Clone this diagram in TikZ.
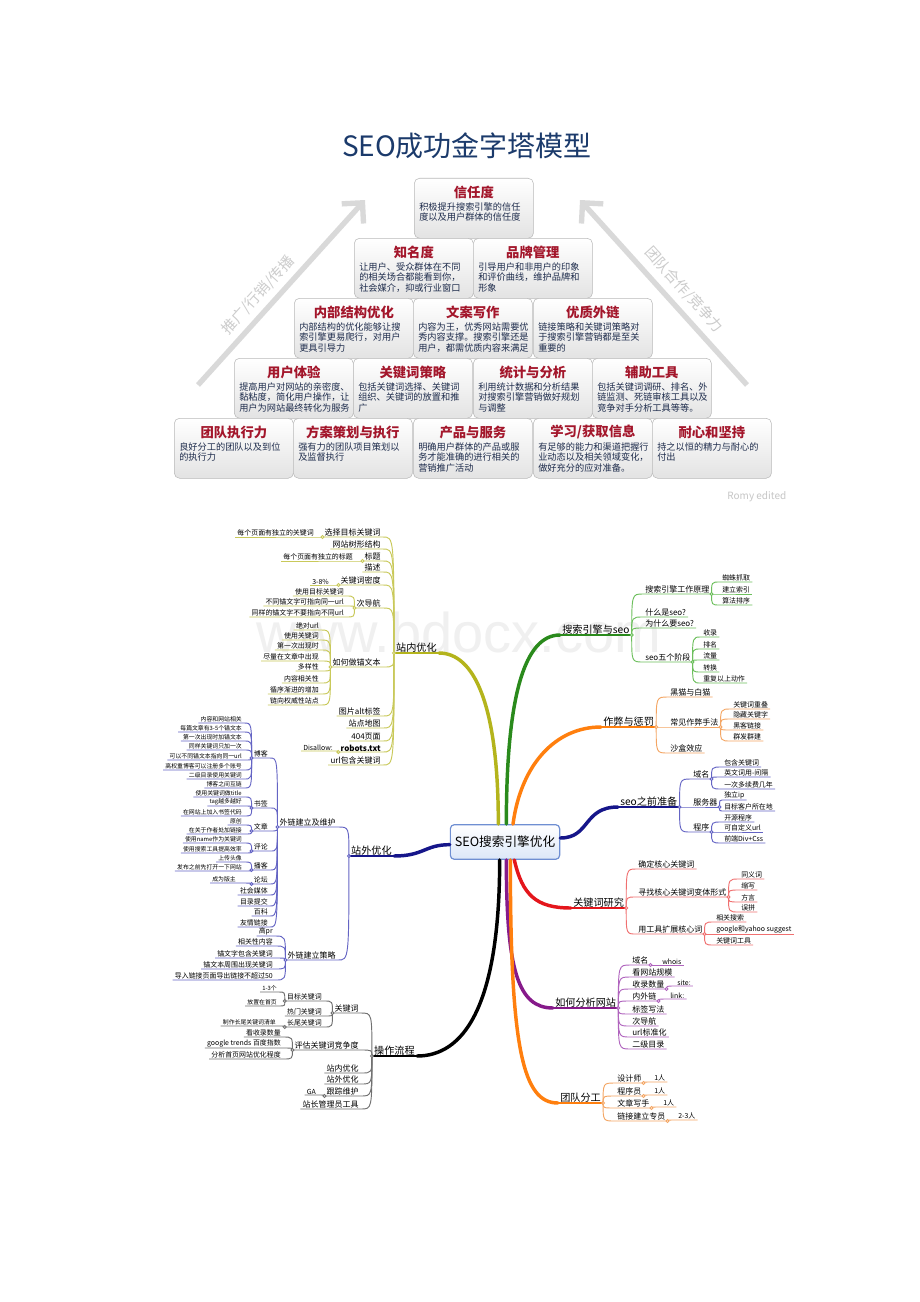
\documentclass[tikz,border=0pt]{standalone}
\usepackage{fontspec}
\setmainfont{Noto Sans CJK SC}
\newfontfamily\markfont{Liberation Sans}
\usetikzlibrary{positioning, arrows.meta, calc}

\definecolor{titleblue}{HTML}{1B3A6B}
\definecolor{brickred}{HTML}{A3162B}
\definecolor{bricktext}{HTML}{1E2C4C}
\definecolor{boxblue}{HTML}{6F8FD2}
\definecolor{boxfill}{HTML}{DCE7F8}
\definecolor{colive}{HTML}{B4B41C}
\definecolor{lolive}{HTML}{C9C95A}
\definecolor{cgreen}{HTML}{2A8A1C}
\definecolor{lgreen}{HTML}{6CBF5C}
\definecolor{corange}{HTML}{FF7F0E}
\definecolor{lorange}{HTML}{F4A664}
\definecolor{cnavy}{HTML}{16168A}
\definecolor{lnavy}{HTML}{6464C4}
\definecolor{cred}{HTML}{E4161C}
\definecolor{lred}{HTML}{F07070}
\definecolor{cpurple}{HTML}{861A8A}
\definecolor{lpurple}{HTML}{B064BE}
\definecolor{lgrey}{HTML}{707070}

% child link + underline, right side / left side
\newcommand{\rbr}[3]{\draw[#1] (#2) .. controls (#2 |- #3.south west) .. (#3.south west) -- (#3.south east);}
\newcommand{\lbr}[3]{\draw[#1] (#2) .. controls (#2 |- #3.south east) .. (#3.south east) -- (#3.south west);}
\newcommand{\jnt}[2]{\filldraw[#1, fill=white] (#2) circle (1.1pt);}

\begin{document}
\begin{tikzpicture}[
        x=0.75pt, y=-0.75pt,
        brick/.style={draw=gray!55, rounded corners=4pt, top color=white, bottom color=gray!22, minimum width=89.4pt, minimum height=45pt, anchor=north west, inner sep=0pt},
        bricktitle/.style={font=\fontsize{10}{12}\selectfont\bfseries, text=brickred},
        brickbody/.style={font=\fontsize{6.9}{8}\selectfont, text=bricktext, align=left, anchor=north west, inner sep=0pt},
        bigarrow/.style={draw=gray!30, line width=4pt, -{Straight Barb[length=11pt, width=22pt]}},
        sidetext/.style={font=\fontsize{11}{13}\selectfont, text=gray!40},
        centre/.style={draw=boxblue, line width=0.9pt, rounded corners=3pt, top color=white, bottom color=boxfill, minimum width=78pt, minimum height=26pt, font=\fontsize{9.5}{11}\selectfont},
        trunk/.style={line width=2.6pt, line cap=round},
        rn/.style={anchor=south west, inner xsep=1.5pt, inner ysep=0.3pt},
        ln/.style={anchor=south east, inner xsep=1.5pt, inner ysep=0.3pt},
        lv1/.style={font=\fontsize{7.6}{8}\selectfont},
        lv2/.style={font=\fontsize{6}{7}\selectfont},
        lv3/.style={font=\fontsize{5.2}{6}\selectfont},
        lv4/.style={font=\fontsize{4.4}{5}\selectfont},
        olivel/.style={draw=lolive, line width=0.7pt},
        greenl/.style={draw=lgreen, line width=0.7pt},
        orangel/.style={draw=lorange, line width=0.7pt},
        navyl/.style={draw=lnavy, line width=0.7pt},
        redl/.style={draw=lred, line width=0.7pt},
        purplel/.style={draw=lpurple, line width=0.7pt},
        greyl/.style={draw=lgrey, line width=0.7pt},
    ]
    \useasboundingbox (0,0) rectangle (920,1302);
    \fill[white] (0,0) rectangle (920,1302);

    % watermark
    \node[font=\markfont\fontsize{42}{44}\selectfont, text=gray!12, anchor=base west] (mark) at (252,652) {www.bdocx.com};

    % pyramid title
    \node[font=\fontsize{21}{25}\selectfont, text=titleblue] (title) at (467,146) {SEO成功金字塔模型};

    % side arrows
    \coordinate (lfoot) at (198,385);
    \coordinate (ltip) at (365,200);
    \coordinate (rfoot) at (747,385);
    \coordinate (rtip) at (580,200);
    \draw[bigarrow] (lfoot) -- (ltip);
    \draw[bigarrow] (rfoot) -- (rtip);
    \node[sidetext, rotate=48] (spread) at (258,295) {推广/行销/传播};
    \node[sidetext, rotate=-48] (teamwork) at (684,290) {团队合作/竞争力};

    % bricks of the pyramid
    \foreach \nm/\bx/\by/\ttl/\desc in {
        trust/414/178/信任度/{积极提升搜索引擎的信任\\度以及用户群体的信任度},
        fame/354/238/知名度/{让用户、受众群体在不同\\的相关场合都能看到你，\\社会媒介，抑或行业窗口},
        brand/473/238/品牌管理/{引导用户和非用户的印象\\和评价曲线，维护品牌和\\形象},
        struct/294/298/内部结构优化/{内部结构的优化能够让搜\\索引擎更易爬行，对用户\\更具引导力},
        copy/413/298/文案写作/{内容为王，优秀网站需要优\\秀内容支撑。搜索引擎还是\\用户，都需优质内容来满足},
        links/533/298/优质外链/{链接策略和关键词策略对\\于搜索引擎营销都是至关\\重要的},
        ux/234/358/用户体验/{提高用户对网站的亲密度、\\黏粘度，简化用户操作，让\\用户为网站最终转化为服务},
        kwplan/353/358/关键词策略/{包括关键词选择、关键词\\组织、关键词的放置和推\\广},
        stats/473/358/统计与分析/{利用统计数据和分析结果\\对搜索引擎营销做好规划\\与调整},
        tools/592/358/辅助工具/{包括关键词调研、排名、外\\链监测、死链审核工具以及\\竞争对手分析工具等等。},
        exec/174/418/团队执行力/{良好分工的团队以及到位\\的执行力},
        plan/293/418/方案策划与执行/{强有力的团队项目策划以\\及监督执行},
        product/413/418/产品与服务/{明确用户群体的产品或服\\务才能准确的进行相关的\\营销推广活动},
        learn/533/418/{学习/获取信息}/{有足够的能力和渠道把握行\\业动态以及相关领域变化，\\做好充分的应对准备。},
        patience/652/418/耐心和坚持/{持之以恒的精力与耐心的\\付出}}{
        \node[brick] (\nm) at (\bx,\by) {};
        \node[bricktitle] (\nm-t) at ($(\nm.north)+(0,14)$) {\ttl};
        \node[brickbody] (\nm-b) at ($(\nm.north west)+(5,24)$) {\desc};
    }

    \node[font=\fontsize{7.5}{9}\selectfont, text=gray!45, anchor=east] (credit) at (791,497) {Romy edited};

    % central topic and main topics
    \node[centre] (seo) at (505,842) {SEO搜索引擎优化};
    \node[ln, lv1] (sin) at (439,653) {站内优化};
    \node[rn, lv1] (sse) at (560,635) {搜索引擎与seo};
    \node[rn, lv1] (cheat) at (601,727) {作弊与惩罚};
    \node[rn, lv1] (prep) at (618,807) {seo之前准备};
    \node[ln, lv1] (sout) at (394,856) {站外优化};
    \node[rn, lv1] (kw) at (571,908) {关键词研究};
    \node[rn, lv1] (site) at (553,1008) {如何分析网站};
    \node[ln, lv1] (flow) at (417,1056) {操作流程};
    \node[rn, lv1] (team) at (558,1103) {团队分工};

    % thick branches
    \draw[trunk, colive] ([xshift=-5pt]seo.north) .. controls +(0,-120) and +(35,0) .. (sin.south east);
    \draw[trunk, cgreen] ([xshift=1pt]seo.north) .. controls +(0,-130) and +(-35,0) .. (sse.south west);
    \draw[trunk, corange] ([xshift=6pt]seo.north) .. controls +(8,-60) and +(-45,0) .. (cheat.south west);
    \draw[trunk, cnavy] ([yshift=3pt]seo.east) .. controls +(30,0) and +(-35,0) .. (prep.south west);
    \draw[trunk, cnavy] ([yshift=-2pt]seo.west) .. controls +(-25,0) and +(30,0) .. (sout.south east);
    \draw[trunk, cred] ([xshift=7pt]seo.south) .. controls +(8,35) and +(-35,0) .. (kw.south west);
    \draw[trunk, cpurple] ([xshift=1pt]seo.south) .. controls +(0,110) and +(-35,0) .. (site.south west);
    \draw[trunk, corange] ([xshift=4pt]seo.south) .. controls +(0,190) and +(-35,0) .. (team.south west);
    \draw[trunk, black] ([xshift=-4pt]seo.south) .. controls +(0,150) and +(45,0) .. (flow.south east);
    \foreach \n/\c in {sin/colive, sse/cgreen, cheat/corange, prep/cnavy, sout/cnavy, kw/cred, site/cpurple, flow/black, team/corange}
        \draw[\c, line width=1.1pt] (\n.south west) -- (\n.south east);

    % search engine and seo
    \foreach \tx/\yy [count=\i] in {搜索引擎工作原理/594, 什么是seo?/617, 为什么要seo?/628, seo五个阶段/662}{
        \node[rn, lv2] (sse-\i) at (643,\yy) {\tx};
        \rbr{greenl}{sse.south east}{sse-\i}
    }
    \foreach \tx/\yy [count=\i] in {蜘蛛抓取/582, 建立索引/594, 算法排序/605}{
        \node[rn, lv3] (sse-1-\i) at (720,\yy) {\tx};
        \rbr{greenl}{sse-1.south east}{sse-1-\i}
    }
    \foreach \tx/\yy [count=\i] in {收录/637, 排名/649, 流量/660, 转换/672, 重复以上动作/683}{
        \node[rn, lv3] (sse-4-\i) at (701,\yy) {\tx};
        \rbr{greenl}{sse-4.south east}{sse-4-\i}
    }
    \foreach \j in {sse, sse-1, sse-4} {\jnt{greenl}{\j.south east}}

    % cheating and penalties
    \foreach \tx/\yy [count=\i] in {黑猫与白猫/697, 常见作弊手法/727, 沙盒效应/753}{
        \node[rn, lv2] (cheat-\i) at (668,\yy) {\tx};
        \rbr{orangel}{cheat.south east}{cheat-\i}
    }
    \foreach \tx/\yy [count=\i] in {关键词重叠/709, 隐藏关键字/719, 黑客链接/730, 群发群建/741}{
        \node[rn, lv3] (cheat-2-\i) at (731,\yy) {\tx};
        \rbr{orangel}{cheat-2.south east}{cheat-2-\i}
    }
    \foreach \j in {cheat, cheat-2} {\jnt{orangel}{\j.south east}}

    % before seo
    \foreach \tx/\yy [count=\i] in {域名/779, 服务器/807, 程序/832}{
        \node[rn, lv2] (prep-\i) at (691,\yy) {\tx};
        \rbr{navyl}{prep.south east}{prep-\i}
    }
    \foreach \tx/\yy [count=\i] in {包含关键词/767, 英文词用-间隔/777, 一次多续费几年/789}{
        \node[rn, lv3] (prep-1-\i) at (722,\yy) {\tx};
        \rbr{navyl}{prep-1.south east}{prep-1-\i}
    }
    \foreach \tx/\yy [count=\i] in {独立ip/800, 目标客户所在地/811}{
        \node[rn, lv3] (prep-2-\i) at (722,\yy) {\tx};
        \rbr{navyl}{prep-2.south east}{prep-2-\i}
    }
    \foreach \tx/\yy [count=\i] in {开源程序/822, 可自定义url/832, 前端Div+Css/843}{
        \node[rn, lv3] (prep-3-\i) at (722,\yy) {\tx};
        \rbr{navyl}{prep-3.south east}{prep-3-\i}
    }
    \foreach \j in {prep, prep-1, prep-2, prep-3} {\jnt{navyl}{\j.south east}}

    % keyword research
    \foreach \tx/\yy [count=\i] in {确定核心关键词/869, 寻找核心关键词变体形式/897, 用工具扩展核心词/934}{
        \node[rn, lv2] (kw-\i) at (636,\yy) {\tx};
        \rbr{redl}{kw.south east}{kw-\i}
    }
    \foreach \tx/\yy [count=\i] in {同义词/879, 缩写/890, 方言/902, 误拼/912}{
        \node[rn, lv3] (kw-2-\i) at (739,\yy) {\tx};
        \rbr{redl}{kw-2.south east}{kw-2-\i}
    }
    \foreach \tx/\yy [count=\i] in {相关搜索/922, google和yahoo suggest/934, 关键词工具/945}{
        \node[rn, lv3] (kw-3-\i) at (714,\yy) {\tx};
        \rbr{redl}{kw-3.south east}{kw-3-\i}
    }
    \foreach \j in {kw, kw-2, kw-3} {\jnt{redl}{\j.south east}}

    % analysing a site
    \foreach \tx/\yy [count=\i] in {域名/965, 看网站规模/977, 收录数量/989, 内外链/1001, 标签写法/1014, 次导航/1026, url标准化/1037, 二级目录/1049}{
        \node[rn, lv2] (site-\i) at (630,\yy) {\tx};
        \rbr{purplel}{site.south east}{site-\i}
    }
    \node[rn, lv3] (site-1-1) at (660,965) {whois};
    \rbr{purplel}{site-1.south east}{site-1-1}
    \node[rn, lv3] (site-3-1) at (675,986) {site:};
    \rbr{purplel}{site-3.south east}{site-3-1}
    \node[rn, lv3] (site-4-1) at (668,999) {link:};
    \rbr{purplel}{site-4.south east}{site-4-1}
    \foreach \j in {site, site-1, site-3, site-4} {\jnt{purplel}{\j.south east}}

    % team roles
    \foreach \tx/\yy/\hc/\hx [count=\i] in {设计师/1083/1人/652, 程序员/1096/1人/652, 文章写手/1108/1人/661, 链接建立专员/1121/2-3人/676}{
        \node[rn, lv2] (team-\i) at (615,\yy) {\tx};
        \rbr{orangel}{team.south east}{team-\i}
        \node[rn, lv3] (team-\i-1) at (\hx,\yy-1) {\hc};
        \rbr{orangel}{team-\i.south east}{team-\i-1}
        \jnt{orangel}{team-\i.south east}
    }
    \jnt{orangel}{team.south east}

    % on-site optimisation
    \foreach \tx/\yy [count=\i] in {选择目标关键词/537, 网站树形结构/549, 标题/561, 描述/572, 关键词密度/585, 次导航/608, 如何做锚文本/667, 图片alt标签/716, 站点地图/728, 404页面/741, \textbf{robots.txt}/752, url包含关键词/765}{
        \node[ln, lv2] (sin-\i) at (383,\yy) {\tx};
        \lbr{olivel}{sin.south west}{sin-\i}
    }
    \node[ln, lv3] (sin-1-1) at (316,537) {每个页面有独立的关键词};
    \lbr{olivel}{sin-1.south west}{sin-1-1}
    \node[ln, lv3] (sin-3-1) at (355,561) {每个页面有独立的标题};
    \lbr{olivel}{sin-3.south west}{sin-3-1}
    \node[ln, lv3] (sin-5-1) at (331,585) {3-8\%};
    \lbr{olivel}{sin-5.south west}{sin-5-1}
    \foreach \tx/\yy [count=\i] in {使用目标关键词/596, 不同锚文字可指向同一url/606, 同样的锚文字不要指向不同url/617}{
        \node[ln, lv3] (sin-6-\i) at (346,\yy) {\tx};
        \lbr{olivel}{sin-6.south west}{sin-6-\i}
    }
    \foreach \tx/\yy [count=\i] in {绝对url/630, 使用关键词/640, 第一次出现时/650, 尽量在文章中出现/661, 多样性/671, 内容相关性/683, 循序渐进的增加/694, 链向权威性站点/705}{
        \node[ln, lv3] (sin-7-\i) at (321,\yy) {\tx};
        \lbr{olivel}{sin-7.south west}{sin-7-\i}
    }
    \node[ln, lv3] (sin-11-1) at (335,751) {Disallow:};
    \lbr{olivel}{sin-11.south west}{sin-11-1}
    \foreach \j in {sin, sin-1, sin-3, sin-5, sin-6, sin-7, sin-11} {\jnt{olivel}{\j.south west}}

    % off-site optimisation
    \foreach \tx/\yy [count=\i] in {外链建立及维护/827, 外链建立策略/960}{
        \node[ln, lv2] (sout-\i) at (338,\yy) {\tx};
        \lbr{navyl}{sout.south west}{sout-\i}
    }
    \foreach \tx/\yy [count=\i] in {博客/758, 书签/808, 文章/831, 评论/851, 播客/870, 论坛/884, 社会媒体/895, 目录提交/906, 百科/916, 友情链接/927}{
        \node[ln, lv3] (sout-1-\i) at (270,\yy) {\tx};
        \lbr{navyl}{sout-1.south west}{sout-1-\i}
    }
    \foreach \tx/\yy [count=\i] in {内容和网站相关/723, 每篇文章有3-5个锚文本/732, 第一次出现时加锚文本/741, 同样关键词只加一次/750, 可以不同锚文本指向同一url/760, 高权重博客可以注册多个账号/770, 二级目录使用关键词/779, 博客之间互链/788}{
        \node[ln, lv4] (sout-1-1-\i) at (244,\yy) {\tx};
        \lbr{navyl}{sout-1-1.south west}{sout-1-1-\i}
    }
    \foreach \tx/\yy [count=\i] in {使用关键词做title/797, tag越多越好/806, 在网站上加入书签代码/816}{
        \node[ln, lv4] (sout-1-2-\i) at (244,\yy) {\tx};
        \lbr{navyl}{sout-1-2.south west}{sout-1-2-\i}
    }
    \foreach \tx/\yy [count=\i] in {原创/825, 在关于作者处加链接/834}{
        \node[ln, lv4] (sout-1-3-\i) at (244,\yy) {\tx};
        \lbr{navyl}{sout-1-3.south west}{sout-1-3-\i}
    }
    \foreach \tx/\yy [count=\i] in {使用name作为关键词/843, 使用搜索工具提高效率/853}{
        \node[ln, lv4] (sout-1-4-\i) at (244,\yy) {\tx};
        \lbr{navyl}{sout-1-4.south west}{sout-1-4-\i}
    }
    \foreach \tx/\yy [count=\i] in {上传头像/862, 发布之前先打开一下网站/871}{
        \node[ln, lv4] (sout-1-5-\i) at (244,\yy) {\tx};
        \lbr{navyl}{sout-1-5.south west}{sout-1-5-\i}
    }
    \node[ln, lv4] (sout-1-6-1) at (238,883) {成为版主};
    \lbr{navyl}{sout-1-6.south west}{sout-1-6-1}
    \foreach \tx/\yy [count=\i] in {高pr/936, 相关性内容/946, 锚文字包含关键词/958, 锚文本周围出现关键词/969, 导入链接页面导出链接不超过50/980}{
        \node[ln, lv3] (sout-2-\i) at (275,\yy) {\tx};
        \lbr{navyl}{sout-2.south west}{sout-2-\i}
    }
    \foreach \j in {sout, sout-1, sout-2, sout-1-1, sout-1-2, sout-1-3, sout-1-4, sout-1-5, sout-1-6} {\jnt{navyl}{\j.south west}}

    % workflow
    \foreach \tx/\yy [count=\i] in {关键词/1013, 评估关键词竞争度/1050, 站内优化/1073, 站外优化/1084, 跟踪维护/1096, 站长管理员工具/1109}{
        \node[ln, lv2] (flow-\i) at (361,\yy) {\tx};
        \lbr{greyl}{flow.south west}{flow-\i}
    }
    \foreach \tx/\yy [count=\i] in {目标关键词/1001, 热门关键词/1016, 长尾关键词/1027}{
        \node[ln, lv3] (flow-1-\i) at (324,\yy) {\tx};
        \lbr{greyl}{flow-1.south west}{flow-1-\i}
    }
    \foreach \tx/\yy [count=\i] in {1-3个/992, 放置在首页/1006}{
        \node[ln, lv4] (flow-1-1-\i) at (279,\yy) {\tx};
        \lbr{greyl}{flow-1-1.south west}{flow-1-1-\i}
    }
    \node[ln, lv4] (flow-1-3-1) at (278,1026) {制作长尾关键词清单};
    \lbr{greyl}{flow-1-3.south west}{flow-1-3-1}
    \foreach \tx/\yy [count=\i] in {看收录数量/1037, google trends 百度指数/1048, 分析首页网站优化程度/1059}{
        \node[ln, lv3] (flow-2-\i) at (283,\yy) {\tx};
        \lbr{greyl}{flow-2.south west}{flow-2-\i}
    }
    \node[ln, lv3] (flow-5-1) at (318,1095) {GA};
    \lbr{greyl}{flow-5.south west}{flow-5-1}
    \foreach \j in {flow, flow-1, flow-2, flow-5, flow-1-1, flow-1-3} {\jnt{greyl}{\j.south west}}
\end{tikzpicture}
\end{document}
